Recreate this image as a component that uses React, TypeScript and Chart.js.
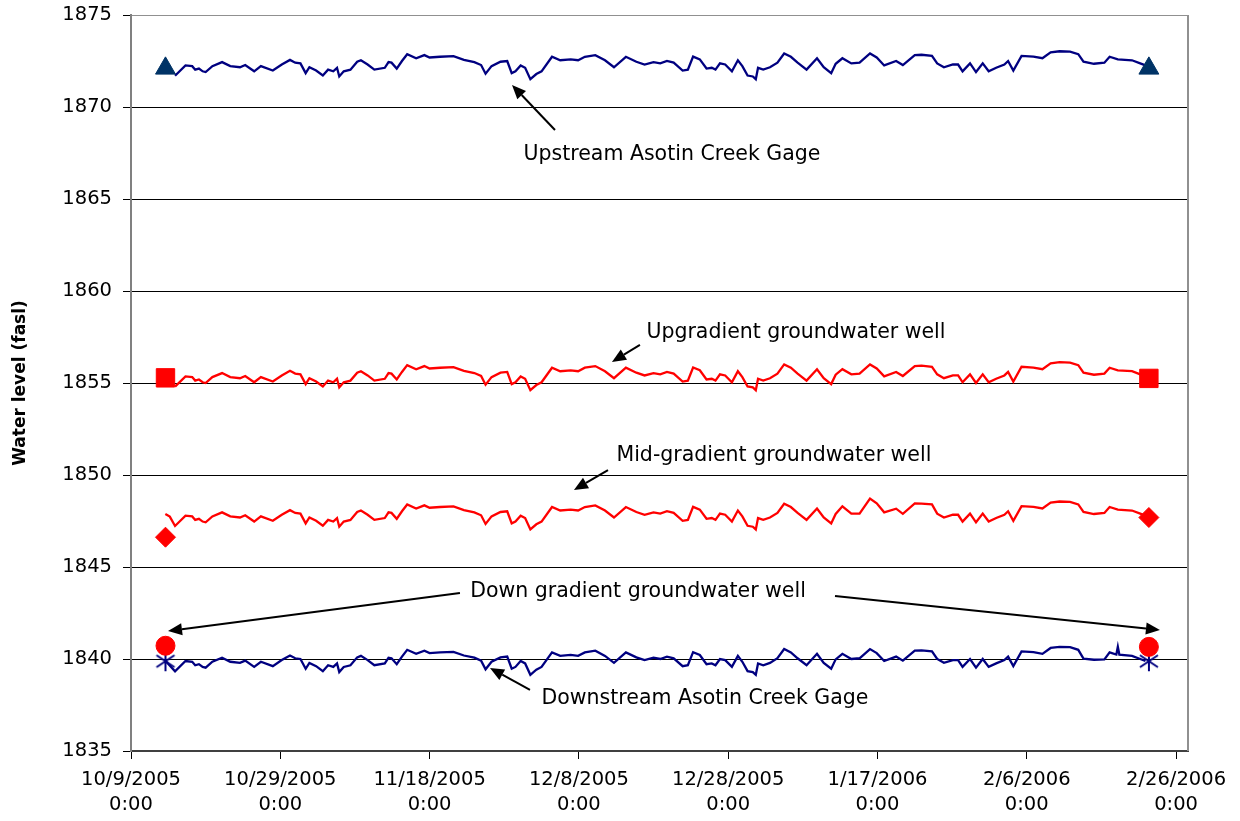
import React, { useEffect, useRef } from "react";
import { Chart, registerables } from "chart.js";

Chart.register(...registerables);

// Days since 10/9/2005 0:00
const days = [
  5.9, 7.3, 8.2, 8.6, 9.1, 9.6, 10.0, 10.9, 12.2, 13.3,
  14.6, 15.3, 16.5, 17.4, 19.0, 20.2, 21.3, 22.0, 22.7, 23.4,
  23.9, 24.8, 25.7, 26.4, 27.1, 27.6, 27.9, 28.5, 29.4, 30.3,
  30.8, 31.7, 32.6, 34.0, 34.5, 34.9, 35.6, 36.3, 37.0, 38.2,
  39.3, 40.0, 41.4, 43.2, 44.6, 46.0, 46.9, 47.5, 48.3, 49.5,
  50.4, 51.0, 51.5, 52.2, 52.8, 53.5, 54.3, 55.0, 56.4, 57.5,
  58.9, 59.9, 60.8, 62.2, 63.5, 64.7, 66.3, 67.7, 68.8, 70.0,
  70.9, 71.8, 72.7, 73.9, 74.6, 75.3, 76.2, 77.1, 77.8, 78.3,
  78.9, 79.6, 80.5, 81.3, 81.9, 82.6, 83.3, 83.7, 84.0, 84.7,
  85.6, 86.6, 87.5, 88.4, 89.3, 90.5, 91.9, 92.8, 93.8, 94.4,
  95.3, 96.5, 97.6, 99.0, 99.9, 100.9, 102.5, 103.4, 105.0, 105.9,
  107.3, 108.0, 108.9, 110.1, 110.8, 111.4, 112.4, 113.2, 114.1, 114.9,
  115.9, 117.0, 117.5, 118.2, 119.3, 120.9, 122.1, 123.2, 124.4, 125.8,
  126.9, 127.6, 129.0, 130.4, 131.1, 132.2, 134.1, 135.2, 135.9,
];

const upstreamLevel = [
  1871.70, 1872.26, 1872.22, 1872.03, 1872.09, 1871.94, 1871.90, 1872.22, 1872.44, 1872.22,
  1872.16, 1872.28, 1871.94, 1872.22, 1871.98, 1872.31, 1872.56, 1872.41, 1872.37, 1871.84,
  1872.16, 1871.98, 1871.71, 1872.03, 1871.94, 1872.13, 1871.66, 1871.94, 1872.03, 1872.46,
  1872.54, 1872.31, 1872.03, 1872.13, 1872.44, 1872.41, 1872.09, 1872.50, 1872.87, 1872.65,
  1872.82, 1872.69, 1872.73, 1872.76, 1872.56, 1872.44, 1872.28, 1871.81, 1872.22, 1872.46,
  1872.50, 1871.84, 1871.94, 1872.26, 1872.13, 1871.51, 1871.79, 1871.94, 1872.73, 1872.54,
  1872.59, 1872.54, 1872.73, 1872.82, 1872.54, 1872.16, 1872.73, 1872.46, 1872.31, 1872.44,
  1872.37, 1872.50, 1872.41, 1871.98, 1872.03, 1872.74, 1872.59, 1872.09, 1872.13, 1872.03,
  1872.37, 1872.31, 1871.94, 1872.54, 1872.22, 1871.71, 1871.66, 1871.51, 1872.13, 1872.03,
  1872.16, 1872.41, 1872.91, 1872.73, 1872.41, 1872.03, 1872.65, 1872.16, 1871.84, 1872.35,
  1872.65, 1872.37, 1872.41, 1872.91, 1872.69, 1872.26, 1872.50, 1872.28, 1872.82, 1872.84,
  1872.78, 1872.37, 1872.16, 1872.31, 1872.31, 1871.94, 1872.37, 1871.90, 1872.37, 1871.94,
  1872.13, 1872.31, 1872.50, 1871.98, 1872.78, 1872.74, 1872.65, 1872.97, 1873.03, 1873.01,
  1872.87, 1872.46, 1872.35, 1872.41, 1872.73, 1872.59, 1872.54, 1872.37, 1872.26,
];

const upgradientLevel = [
  1854.80, 1855.36, 1855.32, 1855.13, 1855.19, 1855.04, 1855.00, 1855.32, 1855.54, 1855.32,
  1855.26, 1855.38, 1855.04, 1855.32, 1855.08, 1855.41, 1855.66, 1855.51, 1855.47, 1854.94,
  1855.26, 1855.08, 1854.81, 1855.13, 1855.04, 1855.23, 1854.76, 1855.04, 1855.13, 1855.56,
  1855.64, 1855.41, 1855.13, 1855.23, 1855.54, 1855.51, 1855.19, 1855.60, 1855.97, 1855.75,
  1855.92, 1855.79, 1855.83, 1855.86, 1855.66, 1855.54, 1855.38, 1854.91, 1855.32, 1855.56,
  1855.60, 1854.94, 1855.04, 1855.36, 1855.23, 1854.61, 1854.89, 1855.04, 1855.83, 1855.64,
  1855.69, 1855.64, 1855.83, 1855.92, 1855.64, 1855.26, 1855.83, 1855.56, 1855.41, 1855.54,
  1855.47, 1855.60, 1855.51, 1855.08, 1855.13, 1855.84, 1855.69, 1855.19, 1855.23, 1855.13,
  1855.47, 1855.41, 1855.04, 1855.64, 1855.32, 1854.81, 1854.76, 1854.61, 1855.23, 1855.13,
  1855.26, 1855.51, 1856.01, 1855.83, 1855.51, 1855.13, 1855.75, 1855.26, 1854.94, 1855.45,
  1855.75, 1855.47, 1855.51, 1856.01, 1855.79, 1855.36, 1855.60, 1855.38, 1855.92, 1855.94,
  1855.88, 1855.47, 1855.26, 1855.41, 1855.41, 1855.04, 1855.47, 1855.00, 1855.47, 1855.04,
  1855.23, 1855.41, 1855.60, 1855.08, 1855.88, 1855.84, 1855.75, 1856.07, 1856.13, 1856.11,
  1855.97, 1855.56, 1855.45, 1855.51, 1855.83, 1855.69, 1855.64, 1855.47, 1855.36,
];

const midLeadDays = [4.6, 5.2];
const midLeadLevel = [1847.88, 1847.74];
const midgradientLevel = [
  1847.23, 1847.79, 1847.75, 1847.56, 1847.62, 1847.47, 1847.43, 1847.75, 1847.97, 1847.75,
  1847.69, 1847.81, 1847.47, 1847.75, 1847.51, 1847.84, 1848.09, 1847.94, 1847.90, 1847.37,
  1847.69, 1847.51, 1847.24, 1847.56, 1847.47, 1847.66, 1847.19, 1847.47, 1847.56, 1847.99,
  1848.07, 1847.84, 1847.56, 1847.66, 1847.97, 1847.94, 1847.62, 1848.03, 1848.40, 1848.18,
  1848.35, 1848.22, 1848.26, 1848.29, 1848.09, 1847.97, 1847.81, 1847.34, 1847.75, 1847.99,
  1848.03, 1847.37, 1847.47, 1847.79, 1847.66, 1847.04, 1847.32, 1847.47, 1848.26, 1848.07,
  1848.12, 1848.07, 1848.26, 1848.35, 1848.07, 1847.69, 1848.26, 1847.99, 1847.84, 1847.97,
  1847.90, 1848.03, 1847.94, 1847.51, 1847.56, 1848.27, 1848.12, 1847.62, 1847.66, 1847.56,
  1847.90, 1847.84, 1847.47, 1848.07, 1847.75, 1847.24, 1847.19, 1847.04, 1847.66, 1847.56,
  1847.69, 1847.94, 1848.44, 1848.26, 1847.94, 1847.56, 1848.18, 1847.69, 1847.37, 1847.88,
  1848.30, 1847.90, 1847.90, 1848.72, 1848.46, 1847.97, 1848.17, 1847.89, 1848.46, 1848.44,
  1848.40, 1847.90, 1847.69, 1847.84, 1847.84, 1847.47, 1847.90, 1847.43, 1847.90, 1847.47,
  1847.66, 1847.84, 1848.03, 1847.51, 1848.31, 1848.27, 1848.18, 1848.50, 1848.56, 1848.54,
  1848.40, 1847.99, 1847.88, 1847.94, 1848.26, 1848.12, 1848.07, 1847.90, 1847.79,
];

const downLeadDays = [4.6, 132.0, 132.4];
const downLeadLevel = [1839.90, 1840.24, 1840.24];
const downstreamLevel = [
  1839.33, 1839.89, 1839.85, 1839.66, 1839.72, 1839.57, 1839.53, 1839.85, 1840.07, 1839.85,
  1839.79, 1839.91, 1839.57, 1839.85, 1839.61, 1839.94, 1840.19, 1840.04, 1840.00, 1839.47,
  1839.79, 1839.61, 1839.34, 1839.66, 1839.57, 1839.76, 1839.29, 1839.57, 1839.66, 1840.09,
  1840.17, 1839.94, 1839.66, 1839.76, 1840.07, 1840.04, 1839.72, 1840.13, 1840.50, 1840.28,
  1840.45, 1840.32, 1840.36, 1840.39, 1840.19, 1840.07, 1839.91, 1839.44, 1839.85, 1840.09,
  1840.13, 1839.47, 1839.57, 1839.89, 1839.76, 1839.14, 1839.42, 1839.57, 1840.36, 1840.17,
  1840.22, 1840.17, 1840.36, 1840.45, 1840.17, 1839.79, 1840.36, 1840.09, 1839.94, 1840.07,
  1840.00, 1840.13, 1840.04, 1839.61, 1839.66, 1840.37, 1840.22, 1839.72, 1839.76, 1839.66,
  1840.00, 1839.94, 1839.57, 1840.17, 1839.85, 1839.34, 1839.29, 1839.14, 1839.76, 1839.66,
  1839.79, 1840.04, 1840.54, 1840.36, 1840.04, 1839.66, 1840.28, 1839.79, 1839.47, 1839.98,
  1840.28, 1840.00, 1840.04, 1840.54, 1840.32, 1839.89, 1840.13, 1839.91, 1840.45, 1840.47,
  1840.41, 1840.00, 1839.79, 1839.94, 1839.94, 1839.57, 1840.00, 1839.53, 1840.00, 1839.57,
  1839.76, 1839.94, 1840.13, 1839.61, 1840.41, 1840.37, 1840.28, 1840.60, 1840.66, 1840.64,
  1840.50, 1840.02, 1839.96, 1839.98, 1840.36, 1840.66, 1840.17, 1840.00, 1839.89,
];

// End markers
const markerDays = [4.62, 136.36];
const upstreamMarker = [1872.10, 1872.10];
const upgradientMarker = [1855.28, 1855.25];
const midgradientMarker = [1846.62, 1847.69];
const downgradientMarker = [1840.72, 1840.66];
const downstreamMarker = [1839.88, 1839.88];

// Axes
const xTickDays = [0, 20, 40, 60, 80, 100, 120, 140];
const xTickDates = ["10/9/2005", "10/29/2005", "11/18/2005", "12/8/2005", "12/28/2005", "1/17/2006", "2/6/2006", "2/26/2006"];
const xTickTime = "0:00";
const yTickValues = [1835, 1840, 1845, 1850, 1855, 1860, 1865, 1870, 1875];

// Annotations (text center and arrows: [fromDay, fromLevel, toDay, toLevel])
const annotations = [
  { text: "Upstream Asotin Creek Gage", day: 72.47, level: 1867.39, arrows: [[56.8, 1868.75, 51.04, 1871.2]] },
  { text: "Upgradient groundwater well", day: 89.08, level: 1857.72, arrows: [[68.18, 1857.07, 64.43, 1856.14]] },
  { text: "Mid-gradient groundwater well", day: 86.13, level: 1851.03, arrows: [[63.9, 1850.27, 59.34, 1849.18]] },
  {
    text: "Down gradient groundwater well", day: 67.92, level: 1843.64,
    arrows: [[44.07, 1843.59, 4.96, 1841.52], [94.31, 1843.42, 137.84, 1841.58]],
  },
  { text: "Downstream Asotin Creek Gage", day: 76.89, level: 1837.83, arrows: [[53.45, 1838.32, 48.09, 1839.51]] },
];

function pts(xs: number[], ys: number[]) {
  const out: { x: number; y: number }[] = [];
  const n = Math.min(xs.length, ys.length);
  for (let i = 0; i < n; i++) out.push({ x: xs[i], y: ys[i] });
  return out;
}

function merged(a: { x: number; y: number }[], b: { x: number; y: number }[]) {
  return [...a, ...b].sort((p, q) => p.x - q.x);
}

function makeAsterisk(color: string) {
  const c = document.createElement("canvas");
  c.width = 22;
  c.height = 22;
  const g = c.getContext("2d")!;
  g.strokeStyle = color;
  g.lineWidth = 2;
  g.beginPath();
  g.moveTo(11, 1);
  g.lineTo(11, 21);
  g.moveTo(2, 5);
  g.lineTo(20, 17);
  g.moveTo(20, 5);
  g.lineTo(2, 17);
  g.stroke();
  return c;
}

function drawArrow(ctx: CanvasRenderingContext2D, x1: number, y1: number, x2: number, y2: number) {
  const ang = Math.atan2(y2 - y1, x2 - x1);
  const len = 14;
  const hw = 6;
  const bx = x2 - Math.cos(ang) * len;
  const by = y2 - Math.sin(ang) * len;
  ctx.beginPath();
  ctx.moveTo(x1, y1);
  ctx.lineTo(bx, by);
  ctx.stroke();
  ctx.beginPath();
  ctx.moveTo(x2, y2);
  ctx.lineTo(bx + Math.sin(ang) * hw, by - Math.cos(ang) * hw);
  ctx.lineTo(bx - Math.sin(ang) * hw, by + Math.cos(ang) * hw);
  ctx.closePath();
  ctx.fill();
}

const annotationPlugin = {
  id: "annotations",
  afterDatasetsDraw(chart: any) {
    const { ctx, scales } = chart;
    const xs = scales.x;
    const ys = scales.y;
    ctx.save();
    ctx.fillStyle = "#000";
    ctx.strokeStyle = "#000";
    ctx.lineWidth = 2;
    ctx.font = '20.5px "DejaVu Sans"';
    ctx.textAlign = "center";
    ctx.textBaseline = "middle";
    for (const a of annotations) {
      ctx.fillText(a.text, xs.getPixelForValue(a.day), ys.getPixelForValue(a.level));
      for (const ar of a.arrows) {
        drawArrow(
          ctx,
          xs.getPixelForValue(ar[0]),
          ys.getPixelForValue(ar[1]),
          xs.getPixelForValue(ar[2]),
          ys.getPixelForValue(ar[3])
        );
      }
    }
    ctx.restore();
  },
};

const framePlugin = {
  id: "frame",
  beforeDatasetsDraw(chart: any) {
    const { ctx, chartArea } = chart;
    ctx.save();
    ctx.strokeStyle = "#909090";
    ctx.lineWidth = 2;
    ctx.beginPath();
    ctx.moveTo(chartArea.right, chartArea.top);
    ctx.lineTo(chartArea.right, chartArea.bottom);
    ctx.stroke();
    ctx.restore();
  },
};

export default function App() {
  const ref = useRef<HTMLCanvasElement | null>(null);

  useEffect(() => {
    document.body.style.margin = "0";
    const canvas = ref.current;
    if (!canvas) return;
    const navy = "#000080";
    const red = "#FF0000";

    const chart = new Chart(canvas, {
      type: "line",
      data: {
        datasets: [
          {
            label: "Upstream marker",
            data: pts(markerDays, upstreamMarker),
            showLine: false,
            pointStyle: "triangle",
            pointRadius: 11.5,
            pointBackgroundColor: "#003366",
            pointBorderColor: "#003366",
            pointBorderWidth: 1,
          },
          {
            label: "Upgradient marker",
            data: pts(markerDays, upgradientMarker),
            showLine: false,
            pointStyle: "rect",
            pointRadius: 13,
            pointBackgroundColor: red,
            pointBorderColor: red,
            pointBorderWidth: 1,
          },
          {
            label: "Mid-gradient marker",
            data: pts(markerDays, midgradientMarker),
            showLine: false,
            pointStyle: "rectRot",
            pointRadius: 10,
            pointBackgroundColor: red,
            pointBorderColor: red,
            pointBorderWidth: 1,
          },
          {
            label: "Down gradient marker",
            data: pts(markerDays, downgradientMarker),
            showLine: false,
            pointStyle: "circle",
            pointRadius: 9.5,
            pointBackgroundColor: red,
            pointBorderColor: red,
            pointBorderWidth: 1,
          },
          {
            label: "Downstream marker",
            data: pts(markerDays, downstreamMarker),
            showLine: false,
            pointStyle: makeAsterisk(navy) as any,
            pointRadius: 10,
          },
          {
            label: "Upstream Asotin Creek Gage",
            data: pts(days, upstreamLevel),
            borderColor: navy,
            borderWidth: 2.3,
            pointRadius: 0,
            tension: 0,
          },
          {
            label: "Upgradient groundwater well",
            data: pts(days, upgradientLevel),
            borderColor: red,
            borderWidth: 2.3,
            pointRadius: 0,
            tension: 0,
          },
          {
            label: "Mid-gradient groundwater well",
            data: merged(pts(midLeadDays, midLeadLevel), pts(days, midgradientLevel)),
            borderColor: red,
            borderWidth: 2.3,
            pointRadius: 0,
            tension: 0,
          },
          {
            label: "Downstream Asotin Creek Gage",
            data: merged(pts(downLeadDays, downLeadLevel), pts(days, downstreamLevel)),
            borderColor: navy,
            borderWidth: 2.3,
            pointRadius: 0,
            tension: 0,
          },
        ],
      },
      options: {
        responsive: false,
        animation: false,
        layout: { padding: { left: 0, right: 52, top: 15, bottom: 0 } },
        plugins: {
          legend: { display: false },
          tooltip: { enabled: false },
        },
        scales: {
          x: {
            type: "linear",
            min: 0,
            max: 141.6,
            afterBuildTicks: (s: any) => {
              s.ticks = xTickDays.map((v) => ({ value: v }));
            },
            afterFit: (s: any) => {
              s.height = 70;
              s.paddingLeft = 0;
              s.paddingRight = 0;
            },
            grid: { drawOnChartArea: false, drawTicks: true, tickLength: 8, color: "#000" },
            border: { color: "#404040", width: 2 },
            ticks: {
              autoSkip: false,
              maxRotation: 0,
              minRotation: 0,
              padding: 9,
              color: "#000",
              font: { family: "DejaVu Sans", size: 19.5, lineHeight: 1.256 },
              callback: (v: any) => {
                const i = xTickDays.indexOf(Number(v));
                return i >= 0 ? [xTickDates[i], xTickTime] : "";
              },
            },
          },
          y: {
            type: "linear",
            min: 1835,
            max: 1875,
            afterBuildTicks: (s: any) => {
              s.ticks = yTickValues.map((v) => ({ value: v }));
            },
            afterFit: (s: any) => {
              s.width = 131;
              s.paddingTop = 0;
              s.paddingBottom = 0;
            },
            grid: {
              color: (c: any) => {
                const v = c.tick ? c.tick.value : null;
                if (v === 1875) return "#909090";
                if (v === 1835) return "rgba(0,0,0,0)";
                return "#000";
              },
              tickColor: "#000",
              lineWidth: 1,
              tickLength: 8,
            },
            border: { color: "#808080", width: 2 },
            ticks: {
              padding: 11,
              color: "#000",
              font: { family: "DejaVu Sans", size: 19.5 },
              callback: (v: any) => String(v),
            },
            title: {
              display: true,
              text: "Water level (fasl)",
              color: "#000",
              font: { family: "DejaVu Sans", size: 17, weight: "bold" },
              padding: { top: 10, bottom: 0 },
            },
          },
        },
      },
      plugins: [framePlugin, annotationPlugin],
    } as any);

    return () => chart.destroy();
  }, []);

  return <canvas ref={ref} width={1240} height={821} style={{ display: "block" }} />;
}
